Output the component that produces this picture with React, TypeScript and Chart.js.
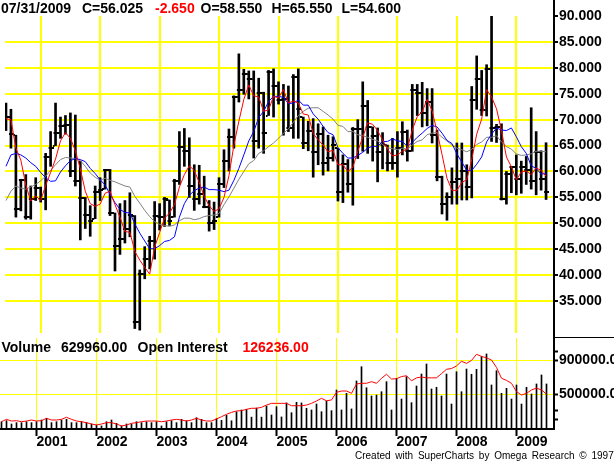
import React, { useEffect, useRef } from 'react';
import { Chart, registerables } from 'chart.js';

Chart.register(...registerables);

const FONT = '"Liberation Sans", Arial, Helvetica, sans-serif';

// Monthly bars: first bar = June 2000, last bar = July 2009 (110 months)
const firstMonth = '2000-06';
const yearLabels = ['2001', '2002', '2003', '2004', '2005', '2006', '2007', '2008', '2009'];
const yearTickIndex = [7, 19, 31, 43, 55, 67, 79, 91, 103];

const priceTicks = [35, 40, 45, 50, 55, 60, 65, 70, 75, 80, 85, 90];
const volumeTicks = [200000, 300000, 500000, 900000, 1000000];
const volumeLabeledTicks = [500000, 900000];

const highs = [
  73.2, 72.0, 67.0, 58.5, 59.4, 57.2, 58.8, 57.0, 63.5, 67.7,
  73.2, 70.5, 70.8, 71.3, 70.9, 62.0, 55.0, 53.4, 57.2, 58.8,
  60.4, 60.4, 52.0, 53.8, 54.4, 55.9, 51.5, 41.0, 45.5, 47.5,
  54.2, 53.8, 55.0, 54.5, 58.5, 67.7, 68.3, 66.5, 61.3, 61.2,
  59.1, 54.4, 54.1, 58.8, 64.2, 68.2, 74.6, 82.7, 79.7, 79.4,
  79.4, 78.0, 75.3, 79.5, 79.8, 77.3, 76.8, 76.5, 78.7, 79.8,
  70.5, 69.7, 70.2, 69.2, 68.6, 67.0, 66.7, 64.5, 63.2, 62.3,
  68.5, 70.0, 77.3, 73.7, 68.6, 68.4, 67.5, 65.1, 66.4, 67.7,
  69.6, 68.0, 76.8, 76.8, 77.2, 76.0, 76.0, 68.0, 59.1, 55.9,
  60.7, 65.5, 65.5, 61.3, 76.4, 82.3, 79.5, 80.6, 91.0, 69.1,
  69.2, 60.0, 61.0, 63.2, 62.0, 62.9, 72.3, 67.7, 64.0, 65.55,
];

const lows = [
  67.9, 64.5, 51.2, 52.4, 50.8, 50.8, 54.4, 54.1, 52.6, 61.0,
  65.0, 66.4, 67.2, 59.0, 57.2, 46.8, 49.0, 47.5, 50.9, 54.4,
  56.6, 51.5, 40.8, 44.0, 46.2, 47.4, 29.7, 29.4, 39.3, 41.2,
  43.1, 48.7, 49.4, 49.6, 51.2, 57.5, 61.0, 55.0, 52.5, 53.7,
  53.0, 48.5, 48.8, 51.2, 56.9, 60.1, 64.5, 73.4, 74.9, 74.0,
  62.6, 64.5, 63.5, 70.8, 70.5, 73.0, 67.0, 67.7, 66.4, 66.4,
  64.4, 64.0, 58.9, 61.3, 59.3, 60.1, 62.0, 54.3, 54.0, 56.0,
  53.5, 62.5, 63.9, 63.5, 62.0, 58.0, 60.5, 60.1, 60.4, 58.9,
  63.2, 62.0, 63.9, 70.8, 68.6, 68.8, 65.5, 58.2, 51.8, 50.6,
  53.7, 53.7, 54.5, 54.5, 54.9, 72.0, 70.8, 70.7, 65.8, 65.6,
  54.5, 53.7, 55.9, 55.5, 55.8, 57.5, 56.6, 55.5, 56.4, 54.6,
];

const opens = [
  68.3, 70.5, 67.0, 52.8, 58.3, 51.2, 54.7, 56.9, 54.7, 62.8,
  65.0, 67.5, 68.8, 69.0, 60.1, 58.2, 54.8, 51.7, 50.9, 56.0,
  56.6, 60.3, 52.0, 45.7, 46.9, 49.0, 51.5, 30.9, 40.2, 43.2,
  46.6, 51.5, 51.3, 54.5, 51.2, 58.2, 64.8, 64.0, 57.2, 54.7,
  55.6, 53.2, 50.0, 51.2, 57.5, 62.0, 66.7, 74.3, 75.8, 78.9,
  77.8, 65.9, 75.1, 70.8, 79.1, 76.4, 73.8, 74.0, 68.4, 78.2,
  70.5, 65.5, 67.9, 63.7, 67.2, 61.6, 62.6, 64.5, 56.0, 61.5,
  57.5, 68.2, 68.2, 72.6, 68.6, 66.8, 63.7, 65.1, 61.6, 61.6,
  64.5, 67.7, 63.9, 75.8, 75.1, 71.3, 73.5, 67.0, 58.9, 53.7,
  55.0, 57.9, 58.5, 60.0, 57.0, 73.8, 77.8, 71.8, 79.7, 68.4,
  68.6, 54.7, 59.6, 60.8, 58.5, 60.8, 60.2, 58.2, 63.7, 58.55,
];

const closes = [
  70.5, 67.3, 52.8, 58.3, 51.2, 54.7, 56.9, 54.7, 62.8, 64.6,
  67.5, 68.8, 69.0, 60.1, 58.2, 54.8, 51.7, 50.5, 56.0, 56.4,
  60.3, 52.0, 45.7, 46.9, 49.0, 51.6, 30.9, 40.2, 43.2, 46.6,
  51.5, 51.3, 54.6, 50.4, 58.2, 64.8, 64.0, 57.2, 54.7, 55.6,
  53.2, 50.0, 50.4, 57.5, 62.0, 66.7, 74.3, 75.8, 78.9, 77.8,
  65.9, 75.1, 67.5, 79.1, 76.4, 73.8, 74.0, 68.4, 78.2, 72.1,
  65.5, 67.9, 63.7, 67.2, 61.6, 62.6, 65.1, 56.0, 61.5, 57.5,
  68.2, 68.2, 72.6, 68.6, 66.8, 63.7, 65.1, 61.6, 61.6, 64.5,
  67.7, 63.9, 75.8, 75.1, 71.3, 73.5, 67.0, 58.9, 53.7, 55.0,
  57.9, 58.5, 60.0, 57.0, 73.8, 77.8, 71.8, 79.7, 68.4, 68.6,
  54.7, 59.6, 60.8, 58.5, 60.8, 60.2, 58.2, 63.7, 58.55, 56.025,
];

// moving-average lines (red fast, blue medium, gray slow)
const maFast = [
  70.2, 70.0, 64.5, 62.2, 57.4, 54.3, 55.3, 54.4, 57.3, 59.8,
  62.4, 65.9, 67.5, 66.4, 64.0, 60.5, 56.2, 53.8, 53.3, 53.7,
  55.8, 56.2, 53.6, 51.2, 48.4, 48.3, 44.6, 42.9, 41.5, 40.2,
  45.4, 48.2, 51.0, 52.0, 53.6, 57.0, 59.4, 61.1, 60.2, 57.9,
  55.2, 53.4, 52.3, 52.8, 55.0, 59.2, 65.1, 69.7, 73.9, 76.7,
  74.6, 74.4, 71.6, 71.9, 74.5, 74.2, 75.8, 73.2, 73.6, 73.2,
  71.1, 70.9, 67.3, 66.1, 65.1, 63.8, 64.1, 61.3, 61.3, 60.0,
  60.8, 63.9, 66.6, 69.4, 69.1, 67.9, 66.1, 64.3, 63.0, 63.2,
  63.9, 64.4, 68.0, 70.6, 71.5, 73.9, 71.7, 67.7, 63.3, 58.7,
  56.4, 56.3, 57.9, 58.4, 62.3, 67.2, 70.1, 75.8, 74.4, 72.1,
  67.9, 62.8, 60.9, 58.4, 59.9, 60.1, 59.4, 60.7, 60.2, 59.1,
];

const maMid = [
  61.0, 63.2, 63.5, 63.2, 62.6, 61.7, 61.0, 59.8, 58.8, 58.1,
  58.2, 59.9, 61.1, 62.1, 62.5, 62.3, 61.9, 60.6, 59.6, 58.4,
  57.4, 55.6, 54.0, 52.7, 52.1, 52.0, 49.9, 48.1, 46.6, 45.1,
  45.1, 45.7, 46.5, 46.7, 47.4, 51.2, 53.8, 55.4, 56.3, 56.8,
  57.0, 56.5, 56.5, 56.4, 56.1, 56.4, 58.3, 60.6, 63.2, 65.9,
  67.7, 70.4, 71.6, 73.5, 74.5, 74.5, 74.3, 73.1, 73.2, 73.8,
  72.8, 72.8, 71.1, 70.1, 68.7, 67.5, 67.1, 64.6, 63.5, 62.6,
  62.6, 63.1, 63.7, 64.5, 64.9, 64.8, 65.8, 65.8, 66.3, 65.9,
  65.8, 64.8, 65.6, 66.6, 67.4, 68.3, 68.9, 68.6, 67.4, 66.0,
  65.4, 63.4, 61.8, 60.2, 60.2, 61.4, 62.8, 65.7, 67.2, 68.4,
  68.0, 67.9, 68.4, 66.7, 64.8, 63.5, 61.1, 60.6, 59.5, 59.6,
];

const maSlow = [
  54.4, 56.2, 57.2, 56.8, 56.6, 57.0, 57.5, 58.2, 59.1, 60.2,
  61.3, 62.3, 62.7, 62.6, 62.5, 62.1, 61.0, 59.7, 58.9, 58.3,
  58.7, 58.3, 58.0, 57.6, 57.2, 57.0, 55.2, 53.9, 52.5, 51.3,
  50.3, 49.8, 49.6, 49.4, 49.7, 50.5, 51.0, 51.0, 50.7, 50.9,
  51.3, 51.5, 51.6, 51.9, 53.6, 55.1, 56.8, 58.5, 60.0, 61.5,
  62.1, 63.5, 64.0, 64.8, 65.5, 66.4, 67.4, 68.2, 69.5, 70.8,
  71.6, 72.2, 72.3, 72.3, 71.6, 70.9, 70.1, 68.9, 68.7, 67.7,
  67.7, 67.1, 66.9, 66.6, 66.2, 65.9, 65.2, 64.6, 64.4, 64.2,
  64.5, 64.3, 65.1, 65.8, 66.1, 67.1, 67.4, 67.5, 66.6, 65.9,
  65.1, 64.5, 64.2, 63.8, 64.3, 65.2, 65.7, 66.6, 66.6, 66.9,
  65.7, 64.8, 64.3, 63.4, 63.1, 63.2, 63.4, 63.9, 63.9, 63.8,
];

const volume = [
  174000, 186000, 147000, 163000, 163000, 174000, 163000,
  174000, 194000, 214000, 163000, 174000, 194000, 202000, 163000, 163000, 174000, 163000, 147000,
  135000, 124000, 174000, 194000, 155000, 124000, 147000, 147000, 174000, 163000, 174000, 163000,
  174000, 124000, 174000, 186000, 163000, 202000, 186000, 163000, 221000, 202000, 163000, 163000,
  210000, 190000, 250000, 185000, 290000, 312000, 318000, 228000, 335000, 228000, 359000, 253000,
  351000, 230000, 395000, 280000, 402000, 395000, 332000, 312000, 382000, 292000, 418000, 304000,
  547000, 312000, 508000, 324000, 653000, 821000, 574000, 477000, 488000, 527000, 645000, 312000,
  685000, 441000, 704000, 398000, 594000, 735000, 853000, 559000, 579000, 477000, 735000, 382000,
  762000, 527000, 794000, 732000, 791000, 939000, 971000, 606000, 774000, 508000, 567000, 441000,
  606000, 382000, 579000, 500000, 618000, 724000, 618000,
];

const openInterest = [
  174000, 202000, 182000, 186000, 174000, 182000, 194000,
  182000, 186000, 214000, 194000, 194000, 202000, 226000, 202000, 182000, 174000, 163000, 147000,
  135000, 147000, 163000, 163000, 147000, 124000, 135000, 155000, 163000, 174000, 182000, 182000,
  182000, 174000, 182000, 194000, 202000, 194000, 182000, 194000, 214000, 194000, 182000, 182000,
  206000, 233000, 261000, 284000, 300000, 304000, 320000, 332000, 332000, 343000, 370000, 390000,
  390000, 390000, 390000, 362000, 362000, 362000, 370000, 390000, 418000, 449000, 420000, 430000,
  520000, 535000, 535000, 508000, 618000, 626000, 626000, 645000, 626000, 685000, 732000, 676000,
  680000, 705000, 715000, 655000, 690000, 700000, 690000, 690000, 690000, 740000, 790000, 800000,
  830000, 885000, 860000, 895000, 967000, 943000, 925000, 900000, 812000, 685000, 660000, 625000,
  528000, 488000, 508000, 547000, 570000, 547000, 500000,
];

// header read-out of the last bar
const lastDate = '07/31/2009';
const lastClose = 56.025;
const netChange = -2.65;
const lastOpen = 58.55;
const lastHigh = 65.55;
const lastLow = 54.6;
const lastVolume = 629960;
const lastOpenInterest = 126236;

const toPoints = (values: number[]) => values.map((y, x) => ({ x, y }));
const yearLabelFor = (v: number) => {
  const k = yearTickIndex.indexOf(Number(v));
  return k >= 0 ? yearLabels[k] : '';
};

const tickFont = { family: FONT, size: 14, weight: 'bold' as const, lineHeight: 1 };

const priceFrame = {
  id: 'priceFrame',
  afterDraw(chart: any) {
    const { ctx, chartArea } = chart;
    ctx.save();
    ctx.fillStyle = '#000';
    ctx.fillRect(chartArea.right, 0, 2, chart.height);
    ctx.fillRect(chartArea.right, chart.height - 1, chart.width - chartArea.right, 1);
    ctx.restore();
  },
};

const volumeFrame = {
  id: 'volumeFrame',
  afterDraw(chart: any) {
    const { ctx, chartArea } = chart;
    ctx.save();
    ctx.fillStyle = '#000';
    ctx.fillRect(chartArea.right, 0, 2, chartArea.bottom + 1);
    ctx.fillRect(0, chartArea.bottom - 1, chartArea.right + 2, 2);
    ctx.restore();
  },
};

function makeOpenTick() {
  const c = document.createElement('canvas');
  c.width = 6;
  c.height = 2;
  const g = c.getContext('2d')!;
  g.fillStyle = '#000';
  g.fillRect(0, 0, 2, 2);
  return c;
}

function makeCloseTick() {
  const c = document.createElement('canvas');
  c.width = 6;
  c.height = 2;
  const g = c.getContext('2d')!;
  g.fillStyle = '#000';
  g.fillRect(1, 0, 5, 2);
  return c;
}

function Txt(props: { x: number; y: number; color?: string; size?: number; bold?: boolean; extra?: any; children: any }) {
  const { x, y, color = '#000', size = 14, bold = true, extra = {}, children } = props;
  return (
    <div
      style={{
        position: 'absolute',
        left: x,
        top: y,
        color,
        fontFamily: FONT,
        fontSize: size,
        fontWeight: bold ? 'bold' : 'normal',
        lineHeight: `${size}px`,
        whiteSpace: 'nowrap',
        ...extra,
      }}
    >
      {children}
    </div>
  );
}

export default function App() {
  const priceRef = useRef<HTMLCanvasElement | null>(null);
  const volRef = useRef<HTMLCanvasElement | null>(null);

  useEffect(() => {
    Chart.defaults.font.family = FONT;
    const openTick = makeOpenTick();
    const closeTick = makeCloseTick();

    const price = new Chart(priceRef.current!, {
      type: 'bar',
      data: {
        datasets: [
          { type: 'line', label: 'Fast MA', data: toPoints(maFast), borderColor: '#ff0000', borderWidth: 1, pointRadius: 0, order: 0 } as any,
          { type: 'line', label: 'Mid MA', data: toPoints(maMid), borderColor: '#0000ff', borderWidth: 1, pointRadius: 0, order: 1 } as any,
          { type: 'line', label: 'Slow MA', data: toPoints(maSlow), borderColor: '#808080', borderWidth: 1, pointRadius: 0, order: 2 } as any,
          {
            type: 'line', label: 'Close', data: toPoints(closes), showLine: false,
            pointStyle: closeTick, pointRadius: 3, order: 3,
          } as any,
          {
            type: 'line', label: 'Open', data: toPoints(opens), showLine: false,
            pointStyle: openTick, pointRadius: 3, order: 4,
          } as any,
          {
            type: 'bar', label: 'High-Low',
            data: highs.map((h, i) => ({ x: i, y: [lows[i], h] })),
            backgroundColor: '#000', borderWidth: 0, barThickness: 2, order: 5,
          } as any,
        ],
      },
      options: {
        animation: false,
        responsive: false,
        maintainAspectRatio: false,
        events: [],
        layout: { padding: { top: 16, left: 0, right: 0, bottom: 0 } },
        plugins: { legend: { display: false }, tooltip: { enabled: false } },
        scales: {
          x: {
            type: 'linear', min: -0.2, max: 110.4, offset: false,
            afterBuildTicks: (s: any) => { s.ticks = yearTickIndex.map((v) => ({ value: v })); },
            afterFit: (s: any) => { s.height = 0; s.paddingLeft = 0; s.paddingRight = 0; },
            ticks: { display: false },
            grid: { color: '#ffff00', lineWidth: 2, drawTicks: false, offset: false },
            border: { display: false },
          },
          y: {
            type: 'linear', position: 'right', min: 28.84, max: 90, beginAtZero: false,
            afterBuildTicks: (s: any) => { s.ticks = priceTicks.map((v) => ({ value: v })); },
            afterFit: (s: any) => { s.width = 61; s.paddingTop = 0; s.paddingBottom = 0; },
            ticks: { callback: (v: any) => Number(v).toFixed(3), color: '#000', font: tickFont, padding: 1 },
            grid: {
              color: (c: any) => (c.tick && c.tick.value >= 90 ? 'rgba(0,0,0,0)' : '#ffff00'),
              lineWidth: 2, tickLength: 5, tickColor: '#000', tickWidth: 2,
            },
            border: { display: false },
          },
        },
      } as any,
      plugins: [priceFrame],
    });

    const vol = new Chart(volRef.current!, {
      type: 'bar',
      data: {
        datasets: [
          { type: 'line', label: 'Open Interest', data: toPoints(openInterest), borderColor: '#ff0000', borderWidth: 1, pointRadius: 0, order: 0 } as any,
          { type: 'bar', label: 'Volume', data: toPoints(volume), backgroundColor: '#000', borderWidth: 0, barThickness: 1, order: 1 } as any,
        ],
      },
      options: {
        animation: false,
        responsive: false,
        maintainAspectRatio: false,
        events: [],
        layout: { padding: 0 },
        plugins: { legend: { display: false }, tooltip: { enabled: false } },
        scales: {
          x: {
            type: 'linear', min: -0.3, max: 110.3, offset: false,
            afterBuildTicks: (s: any) => { s.ticks = yearTickIndex.map((v) => ({ value: v })); },
            afterFit: (s: any) => { s.height = 34; s.paddingLeft = 0; s.paddingRight = 0; },
            ticks: {
              callback: (v: any) => yearLabelFor(v), align: 'start', color: '#000', font: tickFont,
              padding: -1, maxRotation: 0, minRotation: 0, autoSkip: false,
            },
            grid: { color: '#ffff00', lineWidth: 1, offset: false, drawTicks: true, tickLength: 7, tickColor: '#000', tickWidth: 2 },
            border: { display: false },
          },
          y: {
            type: 'linear', position: 'right', min: 88235, max: 1158824, beginAtZero: false,
            afterBuildTicks: (s: any) => { s.ticks = volumeTicks.map((v) => ({ value: v })); },
            afterFit: (s: any) => { s.width = 61; s.paddingTop = 0; s.paddingBottom = 0; },
            ticks: {
              callback: (v: any) => (volumeLabeledTicks.includes(Number(v)) ? Number(v).toFixed(2) : ''),
              color: '#000', font: tickFont, padding: 1,
            },
            grid: {
              color: (c: any) => (c.tick && volumeLabeledTicks.includes(c.tick.value) ? '#ffff00' : 'rgba(0,0,0,0)'),
              lineWidth: 1, tickLength: 5, tickColor: '#000', tickWidth: 2,
            },
            border: { display: false },
          },
        },
      } as any,
      plugins: [volumeFrame],
    });

    return () => {
      price.destroy();
      vol.destroy();
    };
  }, []);

  return (
    <div style={{ position: 'absolute', left: 0, top: 0, width: 614, height: 463, background: '#fff', overflow: 'hidden' }} data-first-month={firstMonth}>
      <canvas ref={priceRef} width={614} height={338} style={{ position: 'absolute', left: 0, top: 0 }} />
      <canvas ref={volRef} width={614} height={125} style={{ position: 'absolute', left: 0, top: 338 }} />
      <Txt x={1} y={1}>{lastDate}</Txt>
      <Txt x={82} y={1}>{`C=${lastClose.toFixed(3)}`}</Txt>
      <Txt x={155} y={1} color="#ff0000">{netChange.toFixed(3)}</Txt>
      <Txt x={200.5} y={1}>{`O=${lastOpen.toFixed(3)}`}</Txt>
      <Txt x={271.5} y={1}>{`H=${lastHigh.toFixed(3)}`}</Txt>
      <Txt x={341.5} y={1}>{`L=${lastLow.toFixed(3)}`}</Txt>
      <Txt x={1.5} y={340}>Volume</Txt>
      <Txt x={61} y={340}>{lastVolume.toFixed(2)}</Txt>
      <Txt x={137.5} y={340}>Open Interest</Txt>
      <Txt x={242.5} y={340} color="#ff0000">{lastOpenInterest.toFixed(2)}</Txt>
      <Txt x={355} y={451} size={10} bold={false} extra={{ wordSpacing: 2 }}>
        Created with SuperCharts by Omega Research © 1997
      </Txt>
    </div>
  );
}
